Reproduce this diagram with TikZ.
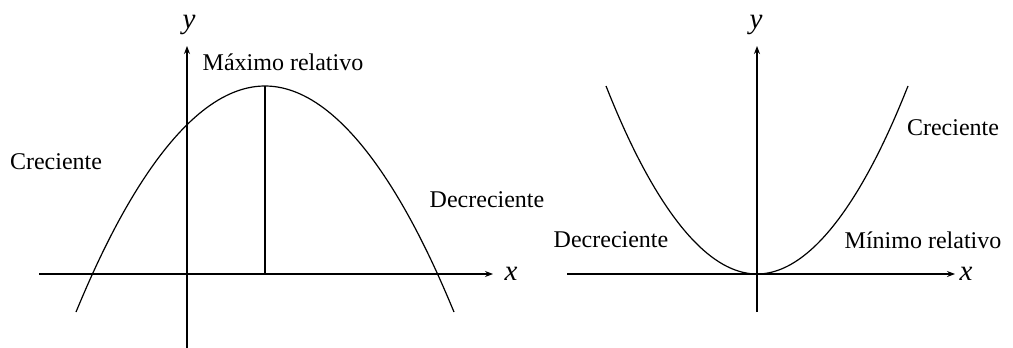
\documentclass[tikz,border=0pt]{standalone}
\usepackage{fontspec}
\setmainfont{Liberation Serif}
\usepackage{tikz}
\usetikzlibrary{arrows.meta,positioning}

\begin{document}
\begin{tikzpicture}[
  x=0.5pt,y=-0.5pt,
  font=\fontsize{12}{14}\selectfont,
  axis/.style={line width=0.6pt,-{Stealth[length=4pt,width=3pt]}},
  curve/.style={line width=0.6pt},
  lbl/.style={inner sep=1pt},
  var/.style={inner sep=0pt,font=\fontsize{14.5}{16}\selectfont\itshape}
]
\useasboundingbox (0,0) rectangle (1013,348);

% left: maximum
\coordinate (lxa) at (39,274);
\coordinate (lxb) at (493,274);
\coordinate (lya) at (187,348);
\coordinate (lyb) at (187,46);
\coordinate (lstart) at (76,312);
\coordinate (ltop) at (265,86);
\coordinate (lend) at (454,312);
\coordinate (lfoot) at (265,274);
\draw[axis] (lxa)--(lxb);
\draw[axis] (lya)--(lyb);
\draw[curve] (lstart) parabola bend (ltop) (lend);
\draw[curve] (ltop)--(lfoot);
\node[var] (lx) at (511,274) {x};
\node[var] (ly) at (189,25) {y};
\node[lbl] (max) at (283,62) {Máximo relativo};
\node[lbl] (lup) at (56,162) {Creciente};
\node[lbl] (ldown) at (487,200) {Decreciente};

% right: minimum
\coordinate (rxa) at (567,274);
\coordinate (rxb) at (955,274);
\coordinate (rya) at (757,312);
\coordinate (ryb) at (757,46);
\coordinate (rstart) at (606,86);
\coordinate (rbot) at (757,274);
\coordinate (rend) at (908,86);
\draw[axis] (rxa)--(rxb);
\draw[axis] (rya)--(ryb);
\draw[curve] (rstart) parabola bend (rbot) (rend);
\node[var] (rx) at (966,274) {x};
\node[var] (ry) at (756,25) {y};
\node[lbl] (min) at (923,240) {Mínimo relativo};
\node[lbl] (rup) at (953,128) {Creciente};
\node[lbl] (rdown) at (611,240) {Decreciente};
\end{tikzpicture}
\end{document}
